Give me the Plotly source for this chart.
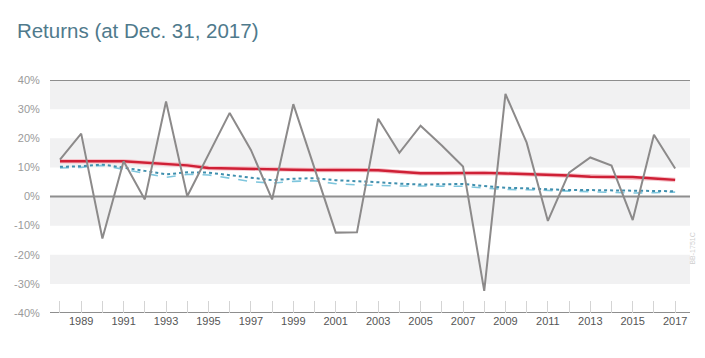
import plotly.graph_objects as go

years = list(range(1988, 2018))
annual_returns = [12.7, 21.6, -14.4, 12.1, -1.0, 32.6, 0.1, 14.5, 28.7, 16.0,
                  -1.0, 31.7, 9.7, -12.4, -12.3, 26.7, 15.0, 24.3, 17.5, 10.3,
                  -32.4, 35.2, 18.5, -8.4, 8.2, 13.4, 10.6, -8.1, 21.2, 9.6]
red_avg = [12.1, 12.0, 12.1, 12.1, 11.6, 11.3, 10.7, 9.8, 9.6, 9.5,
           9.3, 9.2, 9.1, 9.2, 9.1, 9.0, 8.4, 8.0, 8.0, 8.1,
           8.1, 7.9, 7.7, 7.5, 7.2, 6.8, 6.8, 6.7, 6.2, 5.7]
dotted_series = [10.2, 10.4, 11.0, 10.0, 8.8, 7.6, 8.3, 8.2, 7.4, 6.5,
                 5.6, 6.1, 6.3, 5.6, 5.3, 4.9, 4.4, 4.1, 4.2, 4.3,
                 3.6, 3.0, 2.8, 2.5, 2.2, 2.2, 2.1, 1.8, 1.7, 1.8]
dashed_series = [9.8, 10.0, 10.7, 9.3, 7.8, 6.6, 7.6, 7.4, 6.3, 5.1,
                 4.6, 5.2, 5.4, 4.4, 4.0, 3.7, 3.6, 3.6, 3.5, 3.5,
                 2.9, 2.4, 2.3, 2.1, 1.8, 1.6, 1.5, 1.2, 1.3, 1.5]
y_ticks = [-40, -30, -20, -10, 0, 10, 20, 30, 40]
y_labels = [f"{v}%" for v in y_ticks]
grey_bands = [(30, 40), (10, 20), (-10, 0), (-30, -20)]

fig = go.Figure()
fig.add_trace(go.Scatter(x=years, y=dashed_series, mode="lines",
                         line=dict(color="#7fc6dd", width=1.6, dash="dash")))
fig.add_trace(go.Scatter(x=years, y=dotted_series, mode="lines",
                         line=dict(color="#3f8fae", width=2, dash="dot")))
fig.add_trace(go.Scatter(x=years, y=red_avg, mode="lines",
                         line=dict(color="#f6c3ca", width=4.5)))
fig.add_trace(go.Scatter(x=years, y=red_avg, mode="lines",
                         line=dict(color="#cf2036", width=2.4)))
fig.add_trace(go.Scatter(x=years, y=annual_returns, mode="lines",
                         line=dict(color="#8c8a8a", width=2)))

shapes = []
for lo, hi in grey_bands:
    shapes.append(dict(type="rect", xref="paper", yref="y", x0=0, x1=1, y0=lo, y1=hi,
                       fillcolor="#f1f1f2", line=dict(width=0), layer="below"))
for yv in (40, 0, -40):
    shapes.append(dict(type="line", xref="paper", yref="y", x0=0, x1=1, y0=yv, y1=yv,
                       line=dict(color="#8e8e8e", width=1.8), layer="below"))

fig.update_layout(
    width=705, height=358,
    margin=dict(l=50, r=15, t=80, b=45),
    paper_bgcolor="white", plot_bgcolor="white",
    showlegend=False,
    shapes=shapes,
    font=dict(family="Liberation Sans, Arial, sans-serif"),
    title=dict(text="Returns (at Dec. 31, 2017)", x=0.024, xanchor="left",
               y=0.915, yanchor="middle",
               font=dict(size=20.5, color="#4f7a8c", family="Liberation Sans, Arial, sans-serif")),
    xaxis=dict(range=[1987.53, 2017.7], showgrid=False, zeroline=False, showline=False,
               tickmode="linear", tick0=1989, dtick=2,
               ticks="inside", ticklen=12, tickcolor="#d4d4d4", tickwidth=1,
               minor=dict(dtick=1, tick0=1988, ticks="inside", ticklen=12,
                          tickcolor="#d4d4d4", tickwidth=1),
               tickfont=dict(size=11, color="#555555")),
    yaxis=dict(range=[-40, 40], showgrid=False, zeroline=False, showline=False,
               tickmode="array", tickvals=y_ticks, ticktext=y_labels,
               ticks="outside", ticklen=7, tickcolor="rgba(0,0,0,0)",
               tickfont=dict(size=11, color="#9a9a9a")),
)
fig.add_annotation(text="BB-1751C", xref="paper", yref="paper", x=1.012, y=0.2,
                   showarrow=False, textangle=-90,
                   font=dict(size=7, color="#cfcfcf"))

fig.write_html("out.html", config={"displayModeBar": False},
               post_script="document.body.style.margin='0';")
